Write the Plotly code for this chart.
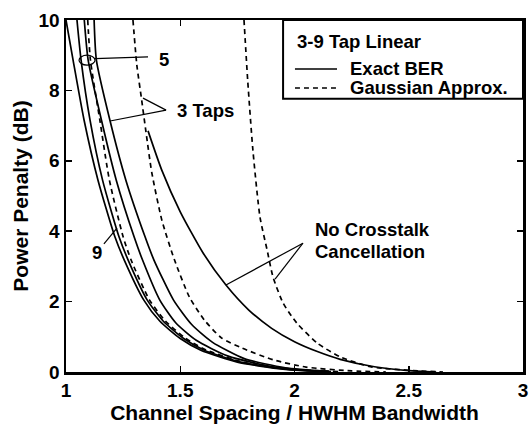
import plotly.graph_objects as go

# ---- data ----
# Exact BER (solid)
tap9_x = [1.0, 1.031, 1.079, 1.14, 1.214, 1.255, 1.34, 1.41, 1.50, 1.59, 1.75, 1.95, 2.15]
tap9_y = [10.0, 8.86, 7.16, 5.45, 3.84, 3.18, 2.05, 1.45, 0.95, 0.62, 0.28, 0.08, 0.01]

tap7_x = [1.048, 1.066, 1.105, 1.16, 1.232, 1.272, 1.355, 1.425, 1.515, 1.605, 1.765, 1.965, 2.16]
tap7_y = [10.0, 8.86, 7.16, 5.45, 3.84, 3.18, 2.05, 1.45, 0.95, 0.62, 0.28, 0.08, 0.01]

tap5_x = [1.08, 1.097, 1.155, 1.22, 1.298, 1.335, 1.41, 1.48, 1.57, 1.71, 1.91, 2.10]
tap5_y = [10.0, 8.86, 7.16, 5.45, 3.84, 3.18, 2.05, 1.40, 0.90, 0.45, 0.14, 0.02]

tap3_x = [1.123, 1.133, 1.193, 1.262, 1.346, 1.385, 1.47, 1.55, 1.64, 1.78, 1.96, 2.15]
tap3_y = [10.0, 8.86, 7.13, 5.45, 3.84, 3.18, 2.05, 1.35, 0.85, 0.38, 0.12, 0.02]

nocanc_x = [1.359, 1.42, 1.50, 1.60, 1.70, 1.80, 1.90, 2.00, 2.10, 2.20, 2.35, 2.50, 2.62]
nocanc_y = [6.85, 5.72, 4.55, 3.38, 2.47, 1.76, 1.24, 0.86, 0.58, 0.36, 0.15, 0.04, 0.0]

# Gaussian approximation (dashed)
g5_x = [1.095, 1.107, 1.148, 1.19, 1.25, 1.285, 1.365, 1.435, 1.525, 1.615, 1.775, 1.975, 2.20]
g5_y = [10.0, 8.86, 7.16, 5.45, 3.84, 3.18, 2.05, 1.45, 0.95, 0.62, 0.28, 0.08, 0.01]

g3_x = [1.293, 1.31, 1.33, 1.35, 1.375, 1.42, 1.475, 1.54, 1.605, 1.68, 1.77, 1.91, 2.05, 2.25, 2.40]
g3_y = [10.0, 8.72, 7.78, 6.82, 5.68, 4.30, 3.18, 2.13, 1.48, 0.97, 0.68, 0.34, 0.14, 0.03, 0.0]

gnc_x = [1.779, 1.795, 1.818, 1.849, 1.88, 1.906, 1.95, 2.01, 2.10, 2.20, 2.34, 2.55, 2.65]
gnc_y = [10.0, 8.3, 6.3, 4.4, 3.47, 2.7, 1.96, 1.39, 0.82, 0.43, 0.14, 0.03, 0.0]

x_ticks = [1, 1.5, 2, 2.5, 3]
x_tick_labels = ["1", "1.5", "2", "2.5", "3"]
y_ticks = [0, 2, 4, 6, 8, 10]
y_tick_labels = ["0", "2", "4", "6", "8", "10"]

FONT = "Liberation Sans, Arial, Helvetica, sans-serif"

fig = go.Figure()

solid = dict(color="black", width=1.7)
dashed = dict(color="black", width=1.7, dash="5px,4px")

for xs, ys in [(tap9_x, tap9_y), (tap7_x, tap7_y), (tap5_x, tap5_y),
               (tap3_x, tap3_y), (nocanc_x, nocanc_y)]:
    fig.add_trace(go.Scatter(x=xs, y=ys, mode="lines",
                             line=dict(**solid, shape="spline", smoothing=0.6),
                             showlegend=False, hoverinfo="skip"))
for xs, ys in [(g5_x, g5_y), (g3_x, g3_y), (gnc_x, gnc_y)]:
    fig.add_trace(go.Scatter(x=xs, y=ys, mode="lines",
                             line=dict(**dashed, shape="spline", smoothing=0.6),
                             showlegend=False, hoverinfo="skip"))

shapes = []
annots = []

def line(x0, y0, x1, y1, dash=None, width=1.2):
    d = dict(type="line", xref="x", yref="y", x0=x0, y0=y0, x1=x1, y1=y1,
             line=dict(color="black", width=width))
    if dash:
        d["line"]["dash"] = dash
    shapes.append(d)

def text(x, y, s, size=18.5, xanchor="left", yanchor="middle"):
    annots.append(dict(x=x, y=y, xref="x", yref="y", text=s, showarrow=False,
                       xanchor=xanchor, yanchor=yanchor,
                       font=dict(family=FONT, size=size, color="black", weight="bold")))

# legend box
shapes.append(dict(type="rect", xref="x", yref="y", x0=1.95, x1=3.0, y0=7.76, y1=10.0,
                   line=dict(color="black", width=2), fillcolor="white", layer="above"))
text(2.0, 9.40, "3-9 Tap Linear")
line(2.002, 8.61, 2.186, 8.61, width=1.6)
text(2.234, 8.61, "Exact BER")
line(2.002, 8.07, 2.186, 8.07, dash="5px,4px", width=1.6)
text(2.234, 8.07, "Gaussian Approx.")

# "5" label with ellipse
shapes.append(dict(type="circle", xref="x", yref="y", x0=1.057, x1=1.127, y0=8.72, y1=9.0,
                   line=dict(color="black", width=1.2)))
line(1.127, 8.90, 1.359, 8.95)
text(1.40, 8.89, "5")

# "3 Taps"
line(1.438, 7.44, 1.337, 7.78)
line(1.438, 7.44, 1.193, 7.13)
text(1.477, 7.44, "3 Taps")

# "9"
line(1.166, 3.64, 1.223, 4.09)
text(1.136, 3.40, "9", xanchor="center")

# No crosstalk cancellation
line(2.037, 3.66, 1.700, 2.47)
line(2.037, 3.66, 1.915, 2.64)
text(2.081, 4.06, "No Crosstalk")
text(2.081, 3.41, "Cancellation")

tickfont = dict(family=FONT, size=19, color="black", weight="bold")
titlefont = dict(family=FONT, size=21, color="black", weight="bold")

fig.update_layout(
    width=529, height=426,
    margin=dict(l=66, r=6, t=20, b=54, autoexpand=False),
    paper_bgcolor="white", plot_bgcolor="white",
    shapes=shapes, annotations=annots,
    showlegend=False, hovermode=False,
    xaxis=dict(range=[1, 3], tickvals=x_ticks, ticktext=x_tick_labels,
               ticks="inside", ticklen=6, tickwidth=1.5, tickcolor="black",
               showline=True, linecolor="black", linewidth=2.5, mirror="ticks",
               showgrid=False, zeroline=False, tickfont=tickfont, automargin=False,
               title=dict(text="Channel Spacing / HWHM Bandwidth", font=titlefont, standoff=0)),
    yaxis=dict(range=[0, 10], tickvals=y_ticks, ticktext=y_tick_labels,
               ticks="inside", ticklen=6, tickwidth=1.5, tickcolor="black",
               showline=True, linecolor="black", linewidth=2.5, mirror="ticks",
               showgrid=False, zeroline=False, tickfont=tickfont, automargin=False,
               title=dict(text="Power Penalty (dB)", font=titlefont, standoff=4)),
)

# remove the default page margin so the 529x426 figure fills the window exactly
fig.write_html("out.html", config={"displayModeBar": False, "staticPlot": True},
               post_script="document.body.style.margin='0';document.body.style.overflow='hidden';")
